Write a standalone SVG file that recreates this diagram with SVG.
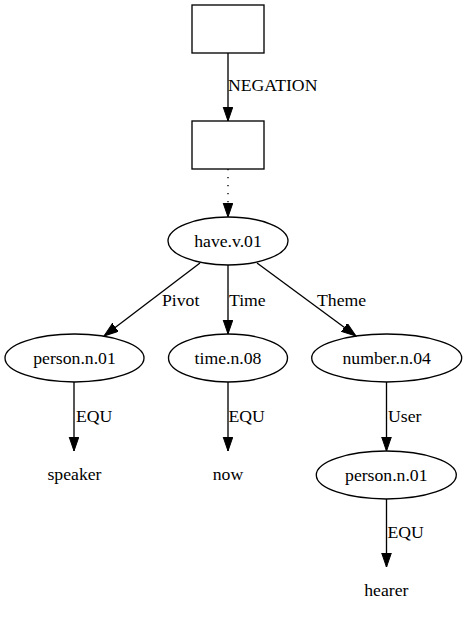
<svg xmlns="http://www.w3.org/2000/svg" width="467" height="620" viewBox="0 0 467 620">
<style>
.n{fill:none;stroke:#000;stroke-width:1.33}
.e{fill:none;stroke:#000;stroke-width:1.33}
text{font-family:"Liberation Serif","Times New Roman",serif;font-size:17.7px;fill:#000}
.c{text-anchor:middle}
</style>
<defs>
<marker id="a" markerUnits="userSpaceOnUse" markerWidth="16" markerHeight="12" refX="14.5" refY="5" orient="auto">
<path d="M0,0 L14.5,5 L0,10 z" fill="#000" stroke="#000" stroke-width="1"/>
</marker>
</defs>
<rect width="467" height="620" fill="#fff"/>
<g id="connectors">
<line class="e" x1="228" y1="53" x2="228" y2="121" marker-end="url(#a)"/>
<text x="228" y="91">NEGATION</text>
<line class="e" x1="228" y1="169" x2="228" y2="217" stroke-dasharray="1.33,6.67" marker-end="url(#a)"/>
<line class="e" x1="200" y1="263" x2="104" y2="336" marker-end="url(#a)"/>
<text x="162" y="306">Pivot</text>
<line class="e" x1="228" y1="265" x2="228" y2="334" marker-end="url(#a)"/>
<text x="229" y="306">Time</text>
<line class="e" x1="257" y1="263" x2="356" y2="336" marker-end="url(#a)"/>
<text x="317" y="306">Theme</text>
<line class="e" x1="74" y1="382" x2="74" y2="451" marker-end="url(#a)"/>
<text x="76" y="422">EQU</text>
<line class="e" x1="228" y1="382" x2="228" y2="451" marker-end="url(#a)"/>
<text x="228.5" y="422">EQU</text>
<line class="e" x1="386.5" y1="382" x2="386.5" y2="451" marker-end="url(#a)"/>
<text x="388" y="422">User</text>
<line class="e" x1="386.5" y1="499" x2="386.5" y2="567" marker-end="url(#a)"/>
<text x="387.5" y="538">EQU</text>
</g>
<g id="box1"><rect class="n" x="192" y="5" width="72" height="48"/></g>
<g id="box2"><rect class="n" x="192" y="121" width="72" height="48"/></g>
<g id="have"><ellipse class="n" cx="228" cy="241" rx="60" ry="24"/><text class="c" x="228" y="247">have.v.01</text></g>
<g id="person1"><ellipse class="n" cx="74.5" cy="358" rx="69.5" ry="24"/><text class="c" x="74.5" y="364">person.n.01</text></g>
<g id="time"><ellipse class="n" cx="228" cy="358" rx="59.5" ry="24"/><text class="c" x="228" y="364">time.n.08</text></g>
<g id="number"><ellipse class="n" cx="386.7" cy="358" rx="75" ry="24"/><text class="c" x="386.7" y="364">number.n.04</text></g>
<g id="speaker"><text class="c" x="74.5" y="480">speaker</text></g>
<g id="now"><text class="c" x="228" y="480">now</text></g>
<g id="person2"><ellipse class="n" cx="386.3" cy="475" rx="70" ry="24"/><text class="c" x="386.3" y="481">person.n.01</text></g>
<g id="hearer"><text class="c" x="386.3" y="596">hearer</text></g>
</svg>
